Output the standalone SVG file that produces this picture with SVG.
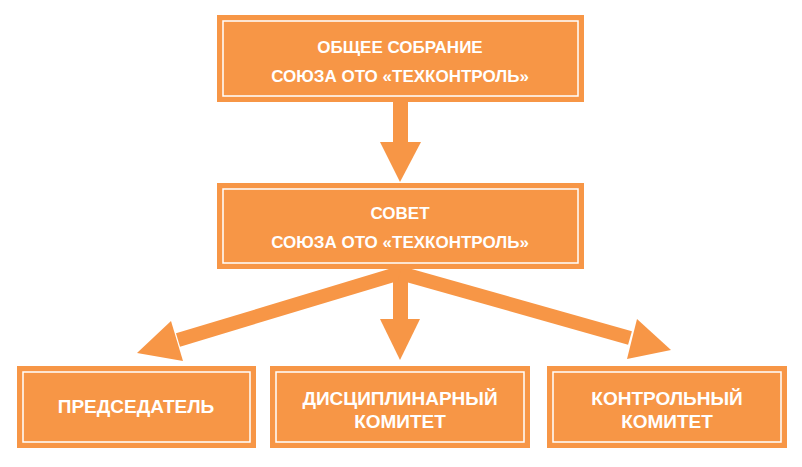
<svg xmlns="http://www.w3.org/2000/svg" width="802" height="467" viewBox="0 0 802 467">
<style>
.box{fill:#F79646}
.inner{fill:none;stroke:#fff;stroke-width:1.5}
.t{fill:#fff;font-family:"Liberation Sans",Arial,sans-serif;font-weight:bold;font-size:17px;text-anchor:middle}
.n{fill:#fff;font-family:"Liberation Sans Narrow","Liberation Sans",Arial,sans-serif;font-weight:bold;font-size:19px;text-anchor:middle}
.a{fill:#F79646}
.s{stroke:#F79646;stroke-width:14}
</style>
<rect width="802" height="467" fill="#fff"/>
<g id="connectors">
<rect class="a" x="393" y="101" width="15" height="43"/>
<polygon class="a" points="380,142 421,142 400,182"/>
<rect class="a" x="393" y="268" width="15" height="53"/>
<polygon class="a" points="380,319 420,319 400,360"/>
<line class="s" x1="400" y1="273" x2="178" y2="340"/>
<polygon class="a" points="137,353 171,321 183,361"/>
<line class="s" x1="400" y1="273" x2="630" y2="338"/>
<polygon class="a" points="671,350 637,319 627,359"/>
</g>
<g id="n1"><rect class="box" x="217" y="15" width="367" height="87"/><rect class="inner" x="223" y="21" width="355" height="75"/>
<text class="t" x="400" y="53">ОБЩЕЕ СОБРАНИЕ</text><text class="t" x="400" y="82">СОЮЗА ОТО «ТЕХКОНТРОЛЬ»</text></g>
<g id="n2"><rect class="box" x="217" y="183" width="367" height="86"/><rect class="inner" x="223" y="189" width="355" height="74"/>
<text class="t" x="400" y="219">СОВЕТ</text><text class="t" x="400" y="248">СОЮЗА ОТО «ТЕХКОНТРОЛЬ»</text></g>
<g id="n3"><rect class="box" x="17" y="366" width="239" height="82"/><rect class="inner" x="23" y="372" width="227" height="70"/>
<text class="n" x="136" y="413">ПРЕДСЕДАТЕЛЬ</text></g>
<g id="n4"><rect class="box" x="270" y="366" width="260" height="82"/><rect class="inner" x="276" y="372" width="248" height="70"/>
<text class="n" x="400" y="405">ДИСЦИПЛИНАРНЫЙ</text><text class="n" x="400" y="428">КОМИТЕТ</text></g>
<g id="n5"><rect class="box" x="547" y="366" width="240" height="82"/><rect class="inner" x="553" y="372" width="228" height="70"/>
<text class="n" x="667" y="405">КОНТРОЛЬНЫЙ</text><text class="n" x="667" y="428">КОМИТЕТ</text></g>
</svg>
